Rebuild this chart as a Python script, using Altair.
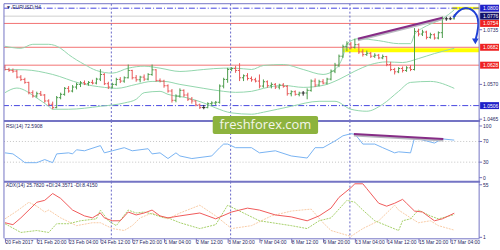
import json
import altair as alt
import pandas as pd

FONT = "Liberation Sans"
TXT = "#27275f"
FRAME = "#7474c4"
W = 478
H_PRICE, H_RSI, H_ADX = 118, 61, 57

# ---------------- price bars (EURUSD H4) ----------------
opens = [
1.0622,1.0615,1.0612,1.0610,1.0592,1.0585,1.0576,1.0545,1.0535,1.0542,
1.0538,1.0520,1.0510,1.0500,1.0530,1.0540,1.0558,1.0550,1.0562,1.0570,
1.0575,1.0572,1.0576,1.0574,1.0586,1.0600,1.0572,1.0562,1.0570,1.0585,
1.0580,1.0590,1.0612,1.0590,1.0584,1.0592,1.0586,1.0600,1.0614,1.0582,
1.0580,1.0566,1.0550,1.0522,1.0535,1.0552,1.0538,1.0525,1.0520,1.0508,
1.0500,1.0500,1.0512,1.0514,1.0516,1.0565,1.0585,1.0615,1.0618,1.0612,
1.0590,1.0596,1.0588,1.0584,1.0580,1.0565,1.0578,1.0566,1.0570,1.0562,
1.0568,1.0564,1.0542,1.0548,1.0540,1.0544,1.0544,1.0552,1.0580,1.0568,
1.0578,1.0574,1.0586,1.0610,1.0628,1.0655,1.0684,1.0692,1.0682,1.0690,
1.0668,1.0660,1.0664,1.0655,1.0658,1.0650,1.0654,1.0630,1.0615,1.0608,
1.0618,1.0612,1.0620,1.0615,1.0730,1.0722,1.0728,1.0712,1.0720,1.0710,
1.0726,1.0768,1.0768,1.0768]
highs = [
1.0628,1.0620,1.0618,1.0614,1.0598,1.0590,1.0578,1.0552,1.0548,1.0550,
1.0541,1.0525,1.0518,1.0535,1.0545,1.0562,1.0565,1.0568,1.0575,1.0580,
1.0582,1.0580,1.0584,1.0590,1.0616,1.0604,1.0578,1.0575,1.0590,1.0592,
1.0594,1.0630,1.0614,1.0598,1.0596,1.0600,1.0604,1.0630,1.0616,1.0588,
1.0584,1.0570,1.0556,1.0540,1.0558,1.0555,1.0545,1.0532,1.0522,1.0512,
1.0508,1.0516,1.0519,1.0520,1.0570,1.0590,1.0620,1.0622,1.0626,1.0634,
1.0600,1.0604,1.0594,1.0590,1.0600,1.0585,1.0582,1.0576,1.0574,1.0572,
1.0574,1.0568,1.0552,1.0552,1.0548,1.0550,1.0558,1.0585,1.0588,1.0584,
1.0586,1.0590,1.0615,1.0635,1.0660,1.0690,1.0700,1.0698,1.0708,1.0694,
1.0676,1.0672,1.0668,1.0664,1.0662,1.0660,1.0656,1.0638,1.0620,1.0622,
1.0624,1.0625,1.0628,1.0740,1.0738,1.0735,1.0732,1.0726,1.0724,1.0730,
1.0775,1.0774,1.0774,1.0782]
lows = [
1.0612,1.0608,1.0605,1.0588,1.0580,1.0572,1.0540,1.0530,1.0530,1.0535,
1.0515,1.0505,1.0495,1.0498,1.0525,1.0536,1.0545,1.0546,1.0555,1.0562,
1.0568,1.0566,1.0570,1.0570,1.0580,1.0568,1.0556,1.0558,1.0566,1.0574,
1.0575,1.0588,1.0585,1.0578,1.0576,1.0580,1.0582,1.0596,1.0578,1.0576,
1.0560,1.0545,1.0515,1.0516,1.0530,1.0532,1.0520,1.0512,1.0504,1.0496,
1.0495,1.0498,1.0506,1.0508,1.0512,1.0558,1.0575,1.0610,1.0605,1.0580,
1.0580,1.0582,1.0578,1.0576,1.0558,1.0560,1.0560,1.0558,1.0556,1.0555,
1.0560,1.0536,1.0534,1.0536,1.0534,1.0536,1.0525,1.0548,1.0562,1.0564,
1.0570,1.0570,1.0582,1.0604,1.0622,1.0650,1.0670,1.0676,1.0678,1.0662,
1.0654,1.0656,1.0650,1.0650,1.0646,1.0646,1.0625,1.0610,1.0600,1.0604,
1.0606,1.0608,1.0610,1.0612,1.0715,1.0716,1.0706,1.0708,1.0705,1.0706,
1.0710,1.0762,1.0764,1.0766]
closes = [
1.0615,1.0612,1.0610,1.0592,1.0585,1.0576,1.0545,1.0535,1.0542,1.0538,
1.0520,1.0510,1.0500,1.0530,1.0540,1.0558,1.0550,1.0562,1.0570,1.0575,
1.0572,1.0576,1.0574,1.0586,1.0600,1.0572,1.0562,1.0570,1.0585,1.0580,
1.0590,1.0612,1.0590,1.0584,1.0592,1.0586,1.0600,1.0614,1.0582,1.0580,
1.0566,1.0550,1.0522,1.0535,1.0552,1.0538,1.0525,1.0520,1.0508,1.0500,
1.0500,1.0512,1.0514,1.0516,1.0565,1.0585,1.0615,1.0618,1.0612,1.0590,
1.0596,1.0588,1.0584,1.0580,1.0565,1.0578,1.0566,1.0570,1.0562,1.0568,
1.0564,1.0542,1.0548,1.0540,1.0544,1.0544,1.0552,1.0580,1.0568,1.0578,
1.0574,1.0586,1.0610,1.0628,1.0655,1.0684,1.0692,1.0682,1.0690,1.0668,
1.0660,1.0664,1.0655,1.0658,1.0650,1.0654,1.0630,1.0615,1.0608,1.0618,
1.0612,1.0620,1.0615,1.0730,1.0722,1.0728,1.0712,1.0720,1.0710,1.0726,
1.0768,1.0768,1.0768,1.0776]

# Bollinger bands (sampled at bar indices)
up_i = [0,4,7,11,14,16,20,23,27,31,35,39,44,50,55,58,62,65,70,75,80,83,85,86,89,94,99,102,103,105,107,110,113]
up_p = [1.0685,1.0679,1.0691,1.0691,1.0679,1.0660,1.0630,1.0612,1.0604,1.0619,
        1.0625,1.0619,1.0609,1.0615,1.0619,1.0619,1.0615,1.0627,1.0630,1.0615,
        1.0600,1.0615,1.0654,1.0693,1.0708,1.0702,1.0693,1.0693,1.0720,1.0740,
        1.0752,1.0768,1.0795]
mid_i = [0,5,12,19,25,28,33,37,40,44,50,55,58,62,65,70,75,80,84,88,92,96,100,104,108,113]
mid_p = [1.0615,1.0614,1.0600,1.0573,1.0561,1.0558,1.0570,1.0579,1.0579,1.0570,
         1.0558,1.0549,1.0546,1.0549,1.0558,1.0567,1.0561,1.0567,1.0585,1.0610,
         1.0630,1.0638,1.0636,1.0648,1.0663,1.0679]
low_i = [0,3,8,11,12,16,24,30,33,35,39,41,46,50,53,57,62,65,72,79,83,87,91,95,99,102,107,113]
low_p = [1.0545,1.0559,1.0529,1.0504,1.0495,1.0495,1.0504,1.0514,1.0525,1.0545,
         1.0549,1.0540,1.0529,1.0514,1.0499,1.0484,1.0480,1.0486,1.0504,1.0519,
         1.0519,1.0495,1.0489,1.0510,1.0549,1.0576,1.0579,1.0558]

red_levels = [1.0754, 1.0682, 1.0628]
bid_level = [1.0776]
blue_levels = [1.0800, 1.0506]
zone_i0 = [85, 112.5]
zone_i1 = [119.25, 119.25]
zone_lo = [1.0667, 1.0796]
zone_hi = [1.0679, 1.0804]
trend_i = [88.75, 110.0]
trend_p = [1.0708, 1.0771]
arrow_i = [112.75, 114.0, 115.75, 117.5, 118.75, 119.2, 118.8, 118.4]
arrow_p = [1.0772, 1.0793, 1.0802, 1.0797, 1.0780, 1.0755, 1.0725, 1.0707]
arrow_head_i = [118.3]
arrow_head_p = [1.0700]

price_lbl_p = [1.0800, 1.0776, 1.0754, 1.0735, 1.0682, 1.0628, 1.0570, 1.0506, 1.0465]
price_lbl_t = ["1.0800","1.0776","1.0754","1.0735","1.0682","1.0628","1.0570","1.0506","1.0465"]
price_lbl_bg = ["#2020c8","#12126a","#ee2222","","#ee2222","#ee2222","","#2020c8",""]

week_sep = [26.75, 56.75, 86.75]

# RSI(14)
rsi_i = [0,2,4,5,8,10,12,13,16,17,18,20,24,25,27,30,32,36,37,39,41,43,44,47,52,54,55,56,58,62,
         64,68,72,76,78,80,83,85,87,88,89,90,93,95,98,99,102,103,106,108,110,113]
rsi_v = [48,46,35,29,29,35,29,46,48,46,54,52,62,48,52,58,52,56,46,48,37,48,42,37,42,58,65,65,58,58,
         48,52,42,38,58,58,71,81,85,84,75,65,65,58,48,50,48,77,71,67,75,72.6]
rsi_trend_i = [87.75, 110.25]
rsi_trend_v = [84.6, 75.0]
rsi_levels = [70, 30]
rsi_lbl_v = [100, 70, 30, 0]

# ADX(14)
adx_i = [0,2,4,8,10,12,14,17,20,22,24,25,27,29,31,33,35,37,39,41,44,49,53,57,61,64,68,72,76,79,
         82,84,87,88,90,91,94,96,98,100,101,103,105,107,108,110,113]
adx_v = [16,14,21,37,39,46,41,29,23,21,26,21,18,18,27,24,26,29,23,21,23,26,20,27,31,29,24,22,18,23,
         31,42,52,56,56,51,36,33,36,40,36,28,27,21,18,20,25.8]
pdi_i = [0,4,8,11,13,16,19,23,24,26,28,31,33,35,37,40,41,44,49,53,56,60,64,72,76,79,82,86,88,90,
         93,96,99,100,102,104,107,109,110,113]
pdi_v = [15,6,8,6,15,15,18,20,29,18,13,29,26,27,25,21,21,16,10,14,34,26,18,13,10,18,21,39,37,29,
         18,13,8,18,20,29,23,20,21,24.4]
mdi_i = [0,3,6,8,10,11,14,18,22,24,27,30,32,34,37,39,41,44,49,53,57,62,67,72,77,80,82,87,90,94,
         98,99,102,104,107,109,113]
mdi_v = [20,28,37,33,27,29,21,13,16,16,10,8,13,21,26,23,20,26,34,23,10,13,23,28,30,16,8,2,10,18,
         34,29,21,16,18,13,8.4]
adx_lbl_v = [55, 1]

x_ticks = list(range(0, 113, 8))
x_labels = ["20 Feb 2017","21 Feb 20:00","23 Feb 04:00","24 Feb 12:00","27 Feb 20:00",
            "1 Mar 04:00","2 Mar 12:00","3 Mar 20:00","7 Mar 04:00","8 Mar 12:00",
            "9 Mar 20:00","13 Mar 04:00","14 Mar 12:00","15 Mar 20:00","17 Mar 04:00"]

# ---------------- helpers ----------------
xs = alt.Scale(domain=[-0.25, 119.25], nice=False, zero=False)
ps = alt.Scale(domain=[1.04595, 1.08135], nice=False, zero=False)
rs = alt.Scale(domain=[-7.7, 109.6], nice=False, zero=False)
ads = alt.Scale(domain=[0, 58.2], nice=False, zero=False)


def X(f="i:Q", axis=None):
    return alt.X(f, scale=xs, axis=axis)


def df(**kw):
    return pd.DataFrame(kw)


one = df(a=[0])


def frame_layers(h, top_width):
    return [
        alt.Chart(one).mark_rule(color=FRAME, strokeWidth=1).encode(
            x=alt.value(0), y=alt.value(0), y2=alt.value(h)),
        alt.Chart(one).mark_rule(color=FRAME, strokeWidth=1).encode(
            x=alt.value(W), y=alt.value(0), y2=alt.value(h)),
        alt.Chart(one).mark_rule(color=FRAME, strokeWidth=top_width).encode(
            x=alt.value(0), x2=alt.value(W + 1), y=alt.value(0)),
    ]


def week_layer(axis=None):
    return alt.Chart(df(i=week_sep)).mark_rule(color="#6666c8", strokeWidth=1, strokeDash=[2, 2]).encode(
        x=X("i:Q", axis))


def right_labels(values, texts, scale, bgs=None):
    d = df(v=values, t=texts, bg=bgs if bgs else [""] * len(values))
    plain = d[d.bg == ""]
    boxed = d[d.bg != ""]
    layers = []
    if len(plain):
        layers.append(alt.Chart(plain).mark_rule(color=FRAME, strokeWidth=1).encode(
            x=alt.value(W), x2=alt.value(W + 3), y=alt.Y("v:Q", scale=scale, axis=None)))
        layers.append(alt.Chart(plain).mark_text(align="left", baseline="middle", font=FONT,
                                                  fontSize=5, color=TXT).encode(
            x=alt.value(W + 4), y=alt.Y("v:Q", scale=scale, axis=None), text="t:N"))
    if len(boxed):
        layers.append(alt.Chart(boxed).mark_rect(yOffset=-3.5, y2Offset=3.5).encode(
            x=alt.value(W + 1), x2=alt.value(W + 20),
            y=alt.Y("v:Q", scale=scale, axis=None), y2="v:Q",
            color=alt.Color("bg:N", scale=None)))
        layers.append(alt.Chart(boxed).mark_text(align="left", baseline="middle", font=FONT,
                                                  fontSize=5, color="white").encode(
            x=alt.value(W + 4), y=alt.Y("v:Q", scale=scale, axis=None), text="t:N"))
    return layers


# ---------------- price panel ----------------
n = min(len(opens), len(highs), len(lows), len(closes))
bars = df(i=list(range(n)), o=opens[:n], h=highs[:n], l=lows[:n], c=closes[:n])
bars["dir"] = ["up" if c > o else ("down" if c < o else "doji") for o, c in zip(bars.o, bars.c)]
bar_color = alt.Color("dir:N", scale=alt.Scale(domain=["up", "down", "doji"],
                                                range=["#4c9c4c", "#e85858", "#222222"]), legend=None)


def YP(f):
    return alt.Y(f, scale=ps, axis=None)


bands = pd.concat([
    df(i=up_i, p=up_p, b=["up"] * len(up_i)),
    df(i=mid_i, p=mid_p, b=["mid"] * len(mid_i)),
    df(i=low_i, p=low_p, b=["low"] * len(low_i)),
])

zones = alt.Chart(df(i0=zone_i0, i1=zone_i1, lo=zone_lo, hi=zone_hi)).mark_rect(color="#ffff00", clip=False).encode(
    x=X("i0:Q"), x2="i1:Q", y=YP("lo:Q"), y2="hi:Q")
red_l = alt.Chart(df(p=red_levels)).mark_rule(color="#f27272", strokeWidth=1).encode(y=YP("p:Q"))
bid_l = alt.Chart(df(p=bid_level)).mark_rule(color="#cfcfcf", strokeWidth=1).encode(y=YP("p:Q"))
blue_l = alt.Chart(df(p=blue_levels)).mark_rule(color="#4646e0", strokeWidth=1,
                                                strokeDash=[6, 2, 1, 2]).encode(y=YP("p:Q"))
band_l = alt.Chart(bands).mark_line(color="#92d6ac", strokeWidth=1, interpolate="monotone", clip=True).encode(
    x=X(), y=YP("p:Q"), detail="b:N")
hl = alt.Chart(bars).mark_rule(strokeWidth=1, clip=True).encode(x=X(), y=YP("l:Q"), y2="h:Q", color=bar_color)
op = alt.Chart(bars).mark_rule(strokeWidth=1, xOffset=-1.6, x2Offset=0, clip=True).encode(
    x=X(), x2="i:Q", y=YP("o:Q"), color=bar_color)
cl = alt.Chart(bars).mark_rule(strokeWidth=1, xOffset=0, x2Offset=1.6, clip=True).encode(
    x=X(), x2="i:Q", y=YP("c:Q"), color=bar_color)
trend_shadow = alt.Chart(df(i=trend_i, p=trend_p)).mark_line(color="#b8b8c0", strokeWidth=2, yOffset=1.5).encode(
    x=X(), y=YP("p:Q"))
trend = alt.Chart(df(i=trend_i, p=trend_p)).mark_line(color="#862c86", strokeWidth=2).encode(
    x=X(), y=YP("p:Q"))
arrow = alt.Chart(df(i=arrow_i, p=arrow_p, k=list(range(len(arrow_i))))).mark_line(
    color="#1f3fd6", strokeWidth=2, interpolate="basis", clip=False).encode(
    x=X(), y=YP("p:Q"), order="k:Q")
arrow_head = alt.Chart(df(i=arrow_head_i, p=arrow_head_p)).mark_point(
    shape="triangle-down", filled=True, size=45, color="#1f3fd6", opacity=1, clip=False).encode(
    x=X(), y=YP("p:Q"))
title_p = alt.Chart(one).mark_text(align="left", baseline="middle", font=FONT, fontSize=5, color=TXT).encode(
    x=alt.value(2), y=alt.value(3.5), text=alt.value("▼ EURUSD,H4"))

price_panel = alt.layer(
    zones, bid_l, red_l, blue_l, week_layer(), band_l, hl, op, cl, trend_shadow, trend,
    arrow, arrow_head, title_p,
    *right_labels(price_lbl_p, price_lbl_t, ps, price_lbl_bg),
    *frame_layers(H_PRICE, 1),
).properties(width=W, height=H_PRICE)

# ---------------- RSI panel ----------------
rsi_line = alt.Chart(df(i=rsi_i, v=rsi_v)).mark_line(color="#78b2f2", strokeWidth=1).encode(
    x=X(), y=alt.Y("v:Q", scale=rs, axis=None))
rsi_lv = alt.Chart(df(v=rsi_levels)).mark_rule(color="#c4c4c4", strokeWidth=1, strokeDash=[1, 2]).encode(
    y=alt.Y("v:Q", scale=rs, axis=None))
rsi_tr_sh = alt.Chart(df(i=rsi_trend_i, v=rsi_trend_v)).mark_line(color="#b8b8c0", strokeWidth=2, yOffset=1.5).encode(
    x=X(), y=alt.Y("v:Q", scale=rs, axis=None))
rsi_tr = alt.Chart(df(i=rsi_trend_i, v=rsi_trend_v)).mark_line(color="#862c86", strokeWidth=2).encode(
    x=X(), y=alt.Y("v:Q", scale=rs, axis=None))
title_r = alt.Chart(one).mark_text(align="left", baseline="middle", font=FONT, fontSize=5, color=TXT).encode(
    x=alt.value(2), y=alt.value(5.5), text=alt.value("RSI(14) 72.5908"))
wm_box = alt.Chart(one).mark_rect(color="#8db33e", cornerRadius=2).encode(
    x=alt.value(210), x2=alt.value(316), y=alt.value(-5), y2=alt.value(13))
wm_txt = alt.Chart(one).mark_text(align="center", baseline="middle", font="Open Sans", fontSize=13,
                                  color="#f4f6ea").encode(
    x=alt.value(263), y=alt.value(4), text=alt.value("freshforex.com"))

rsi_panel = alt.layer(
    rsi_lv, week_layer(), rsi_line, rsi_tr_sh, rsi_tr, title_r,
    *right_labels(rsi_lbl_v, [str(v) for v in rsi_lbl_v], rs),
    *frame_layers(H_RSI, 2),
    wm_box, wm_txt,
).properties(width=W, height=H_RSI)

# ---------------- ADX panel ----------------
label_expr = "' ' + " + json.dumps(x_labels) + "[round(datum.value / 8)]"
x_axis = alt.Axis(values=x_ticks, labelExpr=label_expr, orient="bottom", grid=False, title=None,
                  domainColor=FRAME, tickColor=FRAME, tickSize=4, labelAlign="left", labelBaseline="top",
                  labelPadding=-3, labelFont=FONT, labelFontSize=5, labelColor=TXT,
                  labelFlush=False, labelOverlap=False, labelBound=False)

ind = pd.concat([
    df(i=adx_i, v=adx_v, s=["adx"] * len(adx_i)),
    df(i=pdi_i, v=pdi_v, s=["pdi"] * len(pdi_i)),
    df(i=mdi_i, v=mdi_v, s=["mdi"] * len(mdi_i)),
])
adx_line = alt.Chart(ind[ind.s == "adx"]).mark_line(color="#f05a5a", strokeWidth=1).encode(
    x=X("i:Q", x_axis), y=alt.Y("v:Q", scale=ads, axis=None))
pdi_line = alt.Chart(ind[ind.s == "pdi"]).mark_line(color="#a6d06a", strokeWidth=1, strokeDash=[2, 1]).encode(
    x=X("i:Q", x_axis), y=alt.Y("v:Q", scale=ads, axis=None))
mdi_line = alt.Chart(ind[ind.s == "mdi"]).mark_line(color="#f8cca6", strokeWidth=1, strokeDash=[2, 1]).encode(
    x=X("i:Q", x_axis), y=alt.Y("v:Q", scale=ads, axis=None))
title_a = alt.Chart(one).mark_text(align="left", baseline="middle", font=FONT, fontSize=5, color=TXT).encode(
    x=alt.value(2), y=alt.value(3.5), text=alt.value("ADX(14) 25.7820 +DI:24.3571 -DI:8.4150"))

adx_panel = alt.layer(
    week_layer(x_axis), mdi_line, pdi_line, adx_line, title_a,
    *right_labels(adx_lbl_v, [str(v) for v in adx_lbl_v], ads),
    *frame_layers(H_ADX, 2),
).properties(width=W, height=H_ADX)

chart = alt.vconcat(
    price_panel, rsi_panel, adx_panel, spacing=0, bounds="flush",
    padding={"left": 2, "top": 2, "right": 0, "bottom": 0},
).configure(background="white").configure_view(stroke="transparent")

chart.save("out.html", embed_options={"renderer": "svg", "actions": False})
